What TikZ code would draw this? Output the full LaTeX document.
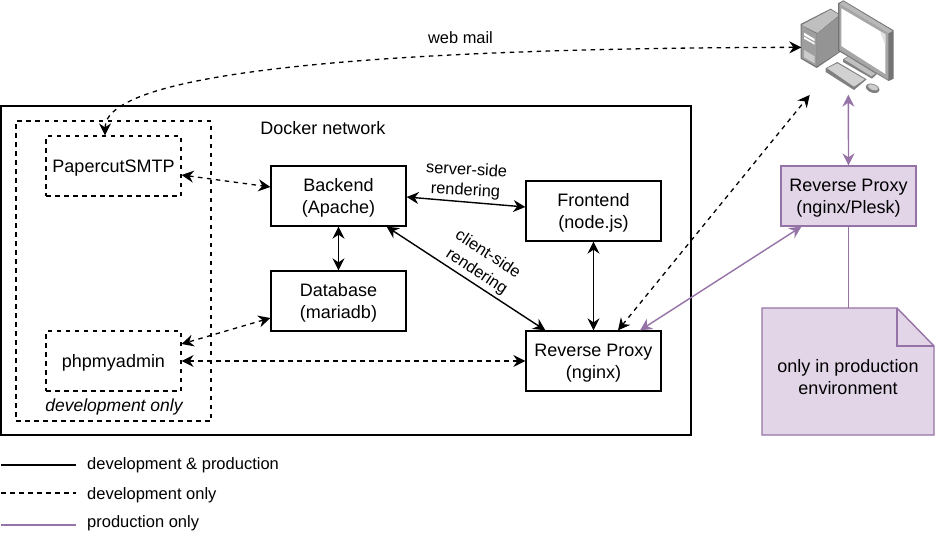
\documentclass[tikz,border=0pt]{standalone}
\usepackage{fontspec}
\setmainfont{Liberation Sans}
\usetikzlibrary{arrows.meta,calc}
\definecolor{prodline}{HTML}{9673A6}
\definecolor{prodfill}{HTML}{E1D5E7}
\newcommand\boxtext[1]{\begin{tabular}{@{}c@{}}\rule{0pt}{20pt}#1\end{tabular}}
\tikzset{
  x=1pt,y=-1pt,
  box/.style={draw=black,line width=1.3pt,fill=white,minimum width=135pt,minimum height=60pt,inner sep=0pt,font=\fontsize{18}{22}\selectfont},
  dbox/.style={box,dash pattern=on 4.5pt off 4.5pt,line width=1.2pt},
  pbox/.style={box,draw=prodline,fill=prodfill},
  lab/.style={align=center,inner sep=0pt,font=\fontsize{16.4}{20.5}\selectfont},
  tip/.style={{Stealth[length=12pt,width=12pt,inset=4pt]}-{Stealth[length=12pt,width=12pt,inset=4pt]}},
  conn/.style={tip,line width=1.4pt,black},
  dconn/.style={conn,line width=1.3pt,dash pattern=on 4.5pt off 4.5pt},
  pconn/.style={tip,line width=1.4pt,prodline},
  legtext/.style={anchor=west,inner sep=0pt,font=\fontsize{16.5}{20}\selectfont},
}
\begin{document}
\begin{tikzpicture}
\useasboundingbox[fill=white] (0,0) rectangle (936,543);
\node[draw,line width=1.4pt,minimum width=690pt,minimum height=329pt,inner sep=0pt] (docker) at (346,270.5) {};
\node[draw,line width=1.2pt,dash pattern=on 4.5pt off 4.5pt,minimum width=195pt,minimum height=300pt,inner sep=0pt] (devarea) at (113.5,271) {};
\node[lab,font=\fontsize{18}{21}\selectfont] (dockerlabel) at (323,128) {Docker network};
\node[lab,font=\fontsize{17.5}{21}\itshape\selectfont] (devlabel) at (114,407) {development only};

\node[dbox] (smtp) at (113.5,166) {\boxtext{PapercutSMTP}};
\node[dbox] (pma) at (113.5,361) {\boxtext{phpmyadmin}};
\node[box] (be) at (338.5,196) {\boxtext{Backend\\(Apache)}};
\node[box] (fe) at (593.5,211) {\boxtext{Frontend\\(node.js)}};
\node[box] (db) at (338.5,301) {\boxtext{Database\\(mariadb)}};
\node[box] (rp) at (593.5,361) {\boxtext{Reverse Proxy\\(nginx)}};
\node[pbox] (plesk) at (848.5,196) {\boxtext{Reverse Proxy\\(nginx/Plesk)}};

% note
\draw[prodline,fill=prodfill,line width=1.4pt] (762,308) -- (897,308) -- (934,346) -- (934,435) -- (762,435) -- cycle;
\draw[prodline,line width=1.4pt] (897,308) -- (897,346) -- (934,346);
\coordinate (notetop) at (848.5,308);
\node[lab,font=\fontsize{18}{22}\selectfont] (notetext) at (848,377) {only in production\\environment};

% computer
\begin{scope}[shift={(780,0)},x=0.3333pt,y=-0.3333pt,line join=round]
\fill[black!55] (62,72) -- (152,26) -- (182,45) -- (182,155) -- (110,204) -- (62,176) -- cycle;
\fill[black!25] (65,75) -- (152,29) -- (178,45) -- (112,99) -- cycle;
\fill[black!38] (65,76) -- (110,102) -- (110,199) -- (65,174) -- cycle;
\fill[black!42] (110,102) -- (178,48) -- (178,155) -- (110,199) -- cycle;
\fill[white] (72,98) -- (104,117) -- (104,124) -- (72,106) -- cycle;
\fill[white] (72,110) -- (104,129) -- (104,134) -- (72,116) -- cycle;
\fill[white!80!black] (72,150) -- (104,169) -- (104,190) -- (72,172) -- cycle;
\fill[black!55] (174,10) -- (190,1) -- (341,91) -- (341,236) -- (326,243) -- (174,152) -- cycle;
\fill[black!28] (178,12) -- (190,4) -- (338,93) -- (325,100) -- cycle;
\fill[black!35] (178,12) -- (325,100) -- (325,240) -- (178,150) -- cycle;
\fill[white] (184,25) -- (316,103) -- (316,222) -- (184,138) -- cycle;
\fill[black!12] (300,95) -- (316,103) -- (316,135) -- cycle;
\fill[black!50] (189,178) -- (205,168) -- (292,221) -- (276,236) -- (189,186) -- cycle;
\fill[black!25] (192,178) -- (205,171) -- (286,221) -- (274,229) -- cycle;
\fill[black!50] (137,205) -- (172,186) -- (260,238) -- (222,270) -- (137,216) -- cycle;
\fill[black!18] (142,205) -- (172,190) -- (254,238) -- (222,260) -- cycle;
\fill[black!50,rotate around={-20:(278,265)}] (278,265) ellipse [x radius=21,y radius=13];
\fill[black!20,rotate around={-20:(279,262)}] (279,262) ellipse [x radius=16,y radius=8];
\coordinate (pcleft) at (64,142);
\coordinate (pcbottom) at (205,284);
\coordinate (pcdiag) at (89,285);
\end{scope}

% connectors
\draw[dconn] ([xshift=-8.5pt]smtp.north) .. controls ([xshift=-8.5pt,yshift=68pt]smtp.north) and (420,48) .. (pcleft);
\node[lab] (webmail) at (460.5,38) {web mail};
\draw[dconn] ([yshift=-9pt]smtp.east) -- ([yshift=9pt]be.west);
\draw[conn] (be.south) -- (db.north);
\draw[conn] ([xshift=-20pt]be.south east) -- ([xshift=20pt]rp.north west);
\draw[conn] ([yshift=-1pt]be.east) -- ([yshift=4pt]fe.west);
\draw[conn] (fe.south) -- (rp.north);
\draw[dconn] ([yshift=-17pt]db.west) -- ([yshift=17pt]pma.east);
\draw[dconn] (pma.east) -- (rp.west);
\draw[dconn] ([xshift=24.5pt]rp.north) -- (pcdiag);
\draw[pconn] ([xshift=46.5pt]rp.north) -- ([xshift=21pt]plesk.south west);
\draw[pconn] (plesk.north) -- (pcbottom);
\draw[prodline,line width=1.4pt] (plesk.south) -- (notetop);

\node[lab,rotate=-3] (ssr) at (466,181) {server-side\\rendering};
\node[lab,rotate=-33] (csr) at (482,263) {client-side\\rendering};

% legend
\coordinate (l1a) at (1,465); \coordinate (l1b) at (76,465);
\coordinate (l2a) at (1,493); \coordinate (l2b) at (76,493);
\coordinate (l3a) at (1,525); \coordinate (l3b) at (76,525);
\draw[line width=1.3pt] (l1a) -- (l1b);
\draw[line width=1.2pt,dash pattern=on 4.5pt off 4.5pt] (l2a) -- (l2b);
\draw[line width=1.3pt,prodline] (l3a) -- (l3b);
\node[legtext] (leg1) at (87,465) {development \& production};
\node[legtext] (leg2) at (87,495) {development only};
\node[legtext] (leg3) at (87,523) {production only};
\end{tikzpicture}
\end{document}
